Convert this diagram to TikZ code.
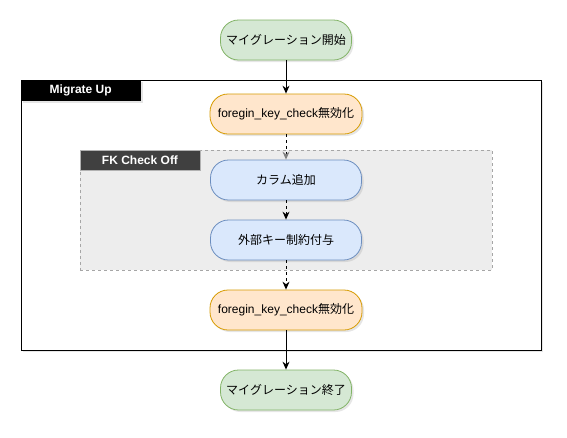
\documentclass[tikz,border=0pt]{standalone}
\usepackage{fontspec}
\setmainfont{Liberation Sans}
\newfontfamily\jp{Noto Sans CJK JP}
\usepackage{xcolor}
\usetikzlibrary{arrows.meta,positioning,shadows}
\definecolor{termfill}{HTML}{D5E8D4}
\definecolor{termline}{HTML}{82B366}
\definecolor{fkfill}{HTML}{FFE6CC}
\definecolor{fkline}{HTML}{D79B00}
\definecolor{taskfill}{HTML}{DAE8FC}
\definecolor{taskline}{HTML}{6C8EBF}
\definecolor{groupfill}{HTML}{EDEDED}
\definecolor{grouptag}{HTML}{404040}

\begin{document}
\begin{tikzpicture}[
	x=1pt, y=-1pt,
	every node/.style={font=\fontsize{12}{14}\selectfont, inner sep=0pt},
	shade/.style={drop shadow={shadow xshift=2pt, shadow yshift=-2pt, opacity=0.2}},
	pill/.style={draw, line width=0.8pt, rounded corners=18pt, minimum height=40pt, shade},
	term/.style={pill, fill=termfill, draw=termline, minimum width=131pt},
	fkstep/.style={pill, fill=fkfill, draw=fkline, minimum width=152pt},
	task/.style={pill, fill=taskfill, draw=taskline, minimum width=151pt},
	tag/.style={anchor=north west, minimum width=120pt, text=white, font=\fontsize{12}{14}\selectfont\bfseries},
	arrow/.style={-{Stealth[length=8pt, width=7pt]}, line width=0.9pt},
	darrow/.style={arrow, dash pattern=on 3pt off 3pt}
	]
	\useasboundingbox (0,0) rectangle (567,437);
	
	% containers
	\node[draw, line width=1pt, fill=white, minimum width=520pt, minimum height=270pt, shade] (migrate) at (281,215) {};
	\node[tag, fill=black, minimum height=21pt, shade] (migratetag) at (migrate.north west) {Migrate Up};
	
	\node[draw=gray!70, dashed, fill=groupfill, minimum width=412pt, minimum height=120pt] (fkoff) at (286,210) {};
	\node[tag, fill=grouptag, draw=gray!60, minimum height=20pt] (fkofftag) at (fkoff.north west) {FK Check Off};
	
	% steps
	\node[term] (start) at (286,40) {\jp マイグレーション開始};
	\node[fkstep] (fkdisable) at (286,114) {foregin\_key\_check{\jp 無効化}};
	\node[task] (addcol) at (286,180) {\jp カラム追加};
	\node[task] (addfk) at (286,240) {\jp 外部キー制約付与};
	\node[fkstep] (fkenable) at (286,310) {foregin\_key\_check{\jp 無効化}};
	\node[term] (finish) at (286,390) {\jp マイグレーション終了};
	
	% flow
	\draw[arrow] (start) -- (fkdisable);
	\draw[darrow, -{Stealth[length=8pt, width=7pt, gray]}] (fkdisable) -- (addcol);
	\draw[darrow] (addcol) -- (addfk);
	\draw[darrow] (addfk) -- (fkenable);
	\draw[arrow] (fkenable) -- (finish);
	
\end{tikzpicture}
\end{document}
